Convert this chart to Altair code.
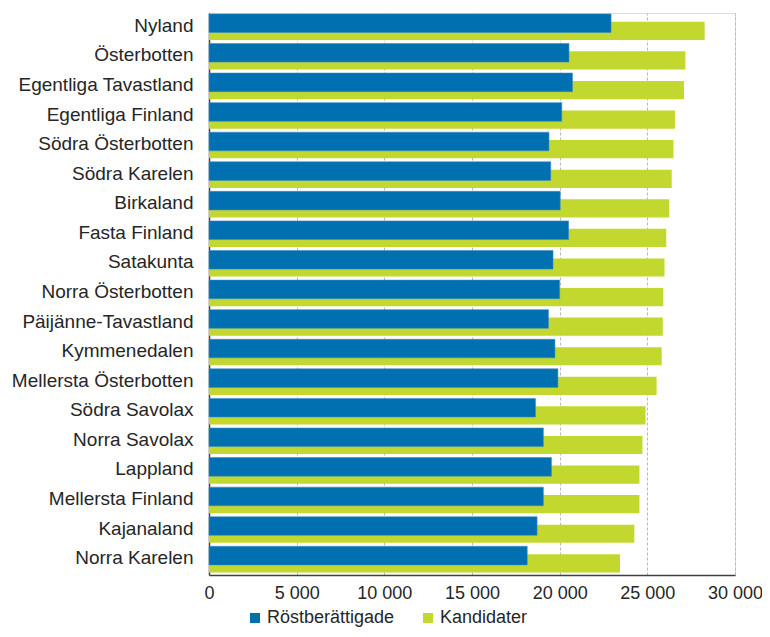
import altair as alt
import pandas as pd

regions = [
    "Nyland", "Österbotten", "Egentliga Tavastland", "Egentliga Finland",
    "Södra Österbotten", "Södra Karelen", "Birkaland", "Fasta Finland",
    "Satakunta", "Norra Österbotten", "Päijänne-Tavastland", "Kymmenedalen",
    "Mellersta Österbotten", "Södra Savolax", "Norra Savolax", "Lappland",
    "Mellersta Finland", "Kajanaland", "Norra Karelen",
]
rostberattigade = [
    22930, 20530, 20730, 20120, 19390, 19490, 20030, 20510,
    19620, 20000, 19360, 19730, 19900, 18620, 19070, 19530,
    19070, 18710, 18150,
]
kandidater = [
    28270, 27170, 27090, 26580, 26490, 26390, 26250, 26080,
    25980, 25910, 25880, 25820, 25530, 24900, 24720, 24550,
    24550, 24260, 23440,
]
series = ["Röstberättigade", "Kandidater"]
colors = ["#0070B0", "#C2D82E"]
x_ticks = [0, 5000, 10000, 15000, 20000, 25000, 30000]

rows = []
for r, a, b in zip(regions, rostberattigade, kandidater):
    rows.append({"Region": r, "Serie": series[0], "Antal": a})
    rows.append({"Region": r, "Serie": series[1], "Antal": b})
df = pd.DataFrame(rows)

FONT = "Liberation Sans"
TXT = "#262626"

x_enc = alt.X(
    "Antal:Q",
    scale=alt.Scale(domain=[0, 30000], nice=False),
    axis=alt.Axis(
        values=x_ticks,
        labelExpr="replace(format(datum.value, ',d'), ',', ' ')",
        title=None, ticks=False, tickSize=0, labelPadding=9,
        labelFlush=False, labelOverlap=False,
        grid=True, gridColor="#B8B8B8", gridDash=[3, 2], gridWidth=1,
        domainColor="#404040", domainWidth=1.5,
        labelFont=FONT, labelFontSize=18, labelColor=TXT,
    ),
)
y_enc = alt.Y(
    "Region:N",
    sort=regions,
    scale=alt.Scale(paddingInner=0, paddingOuter=0),
    axis=alt.Axis(
        title=None, ticks=False, tickSize=0, labelPadding=16, grid=False,
        domainColor="#404040", domainWidth=1.5, labelOffset=-2,
        labelFont=FONT, labelFontSize=19, labelColor=TXT, labelLimit=300,
    ),
)
color_enc = alt.Color(
    "Serie:N",
    scale=alt.Scale(domain=series, range=colors),
    legend=alt.Legend(
        title=None, orient="none", direction="horizontal",
        legendX=37, legendY=596,
        symbolType="square", symbolSize=100, symbolStrokeWidth=0,
        labelFont=FONT, labelFontSize=18, labelColor=TXT,
        labelOffset=3, columnPadding=24,
    ),
)

base = alt.Chart(df).encode(x=x_enc, y=y_enc, color=color_enc)

green = base.transform_filter(alt.datum.Serie == series[1]).mark_bar(
    height=18.2, yOffset=3.1
)
blue = base.transform_filter(alt.datum.Serie == series[0]).mark_bar(
    height=18.6, yOffset=-4.6, stroke="#3C8CC4", strokeWidth=0.6
)

chart = (
    alt.layer(green, blue)
    .properties(
        width=526, height=562,
        autosize=alt.AutoSizeParams(type="none"),
        padding={"left": 201, "top": 5, "right": 27, "bottom": 54},
    )
    .configure_view(stroke=None)
    .configure(font=FONT)
)

chart.save("out.html", embed_options={"renderer": "svg", "actions": False})
